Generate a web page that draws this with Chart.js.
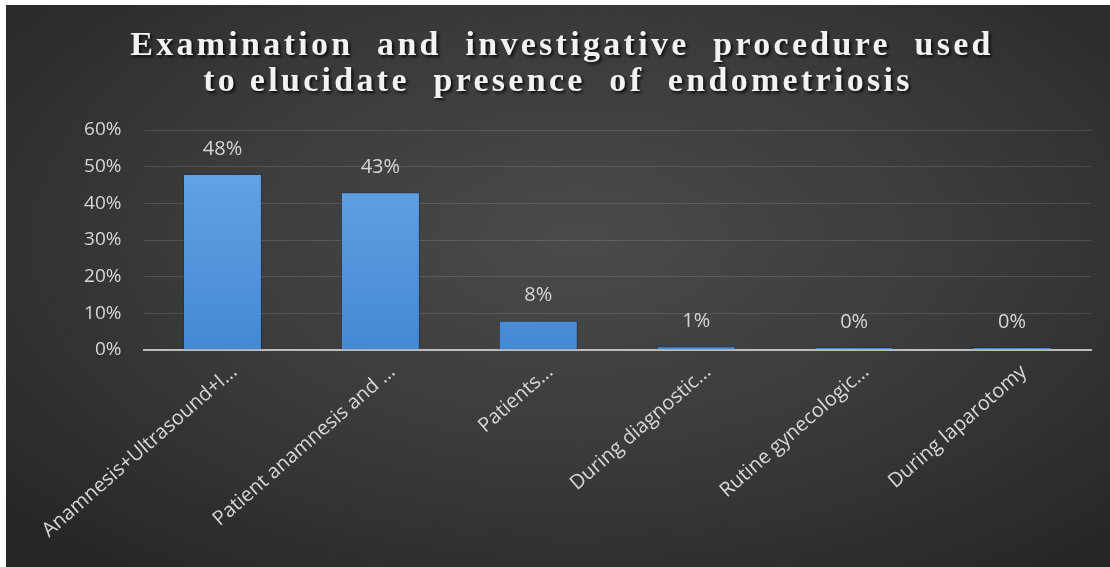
<!doctype html>
<html lang="en">
  <head>
    <meta charset="UTF-8" />
    <title>Endometriosis procedures</title>
    <script src="https://cdn.jsdelivr.net/npm/chart.js"></script>
    <style>
      body { margin: 0; background: #fff; }
      #wrap {
        position: absolute;
        left: 6px;
        top: 5px;
        width: 1104px;
        height: 562px;
        background: radial-gradient(ellipse 70% 75% at 52% 42%, #4a4a4a 0%, #3b3b3b 50%, #262626 100%);
      }
      #chart { position: absolute; left: -6px; top: -5px; }
    </style>
  </head>
  <body>
    <div id="wrap">
      <canvas id="chart" width="1110" height="567"></canvas>
    </div>
    <script>
      const titleLines = [
        "Examination  and  investigative  procedure  used",
        "to elucidate  presence  of  endometriosis",
      ];
      const categories = [
        "Anamnesis+Ultrasound+I...",
        "Patient anamnesis and ...",
        "Patients...",
        "During diagnostic...",
        "Rutine gynecologic...",
        "During laparotomy",
      ];
      const percents = [48, 43, 8, 1, 0, 0];
      const yTicks = [0, 10, 20, 30, 40, 50, 60];

      const textColor = "#d6d6d6";

      // bold serif title with a drop shadow
      const titlePlugin = {
        id: "bigTitle",
        afterDraw(chart) {
          const ctx = chart.ctx;
          ctx.save();
          ctx.font = 'bold 34px "Liberation Serif", serif';
          ctx.letterSpacing = "3.3px";
          ctx.fillStyle = "#f2f2f2";
          ctx.textAlign = "center";
          ctx.textBaseline = "alphabetic";
          ctx.shadowColor = "rgba(0,0,0,0.8)";
          ctx.shadowOffsetX = 2;
          ctx.shadowOffsetY = 2;
          ctx.shadowBlur = 3;
          ctx.fillText(titleLines[0], 562, 55);
          ctx.fillText(titleLines[1], 558, 91);
          ctx.restore();
        },
      };

      // percentage labels above each bar
      const valueLabels = {
        id: "valueLabels",
        afterDatasetsDraw(chart) {
          const ctx = chart.ctx;
          const meta = chart.getDatasetMeta(0);
          ctx.save();
          ctx.font = '20px "Open Sans", sans-serif';
          ctx.fillStyle = textColor;
          ctx.textAlign = "center";
          ctx.textBaseline = "middle";
          meta.data.forEach((bar, i) => {
            ctx.fillText(percents[i] + "%", bar.x, bar.y - 25);
          });
          ctx.restore();
        },
      };

      const ctx = document.getElementById("chart").getContext("2d");
      const grad = ctx.createLinearGradient(0, 130, 0, 350);
      grad.addColorStop(0, "#6aa7e8");
      grad.addColorStop(1, "#4389d3");

      new Chart(ctx, {
        type: "bar",
        data: {
          labels: categories,
          datasets: [
            {
              data: percents,
              backgroundColor: grad,
              borderColor: "rgba(25,45,75,0.55)",
              borderWidth: 1,
              borderSkipped: "bottom",
              minBarLength: 3,
              barPercentage: 0.5,
              categoryPercentage: 1,
            },
          ],
        },
        options: {
          responsive: false,
          animation: false,
          layout: { padding: { top: 130, right: 19, left: 0, bottom: 0 } },
          plugins: {
            legend: { display: false },
            title: { display: false },
            tooltip: { enabled: false },
          },
          scales: {
            x: {
              afterFit(scale) { scale.height = 217; },
              grid: { display: false },
              border: { color: "#bdbdbd", width: 2 },
              ticks: {
                color: textColor,
                font: { family: "Open Sans", size: 20 },
                minRotation: 41,
                maxRotation: 41,
                padding: 2,
                labelOffset: 12,
                autoSkip: false,
              },
            },
            y: {
              min: 0,
              max: 60,
              afterFit(scale) { scale.width = 143.5; },
              afterBuildTicks(scale) {
                scale.ticks = yTicks.map((v) => ({ value: v }));
              },
              grid: {
                color: "rgba(255,255,255,0.13)",
                drawTicks: false,
              },
              border: { display: false },
              ticks: {
                color: textColor,
                font: { family: "Open Sans", size: 19 },
                padding: 22,
                callback: (v) => v + "%",
              },
            },
          },
        },
        plugins: [titlePlugin, valueLabels],
      });
    </script>
  </body>
</html>
